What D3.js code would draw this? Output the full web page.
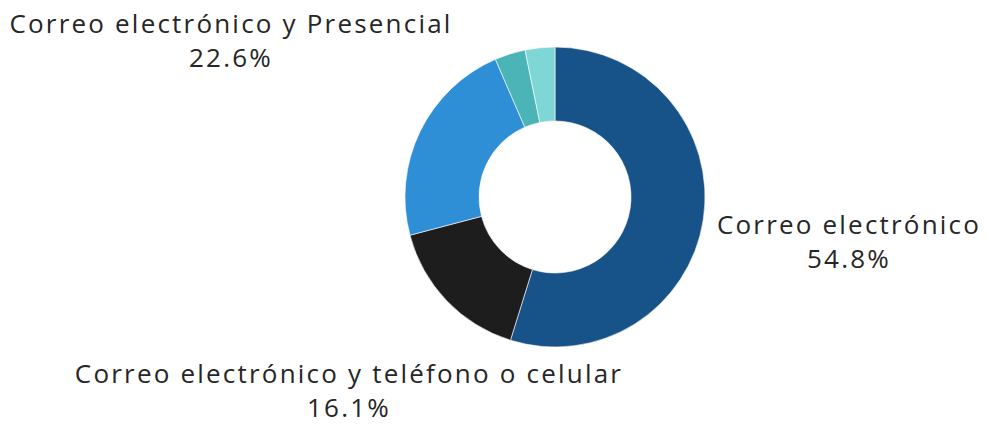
<!DOCTYPE html>
<html>
<head>
<meta charset="utf-8">
<script src="https://cdn.jsdelivr.net/npm/d3@7"></script>
<style>
  html, body { margin: 0; padding: 0; background: #fff; }
  svg text { font-family: "Open Sans", "Noto Sans", sans-serif; fill: #262626; }
</style>
</head>
<body>
<svg id="chart" width="986" height="426"></svg>
<script>
// data
const categories = [
    "Correo electrónico",
    "Correo electrónico y teléfono o celular",
    "Correo electrónico y Presencial",
    "Otro 1",
    "Otro 2"
];
const values = [54.8, 16.1, 22.6, 3.3, 3.2];
const colors = ["#175389", "#1d1d1d", "#2e8fd6", "#4bb4b6", "#7ed7d5"];
const shownLabels = [0, 1, 2]; // only the three big slices carry a label

const width = 986, height = 426;
const cx = 555, cy = 197;
const outerR = 150, innerR = 76;

const svg = d3.select("#chart");

const pie = d3.pie().sort(null).value(d => d.value);
const arc = d3.arc().innerRadius(innerR).outerRadius(outerR);

const data = categories.map((c, i) => ({ name: c, value: values[i], color: colors[i] }));

const g = svg.append("g").attr("transform", `translate(${cx},${cy})`);

g.selectAll("path")
    .data(pie(data))
    .enter().append("path")
    .attr("d", arc)
    .attr("fill", d => d.data.color)
    .attr("stroke", "#fff")
    .attr("stroke-width", 0.6);

// label anchors (page coords), placed like the original
const labelPos = {
    0: { x: 849, y: 234 },
    1: { x: 349, y: 383 },
    2: { x: 231, y: 33 }
};
const lineGap = 34;
const fmt = d => d.toFixed(1) + "%";

shownLabels.forEach(i => {
    const p = labelPos[i];
    const t = svg.append("text")
        .attr("x", p.x)
        .attr("y", p.y)
        .attr("text-anchor", "middle")
        .style("font-size", "26px")
        .style("letter-spacing", "2.2px");
    t.append("tspan").attr("x", p.x).text(categories[i]);
    t.append("tspan").attr("x", p.x).attr("dy", lineGap).text(fmt(values[i]));
});
</script>
</body>
</html>
